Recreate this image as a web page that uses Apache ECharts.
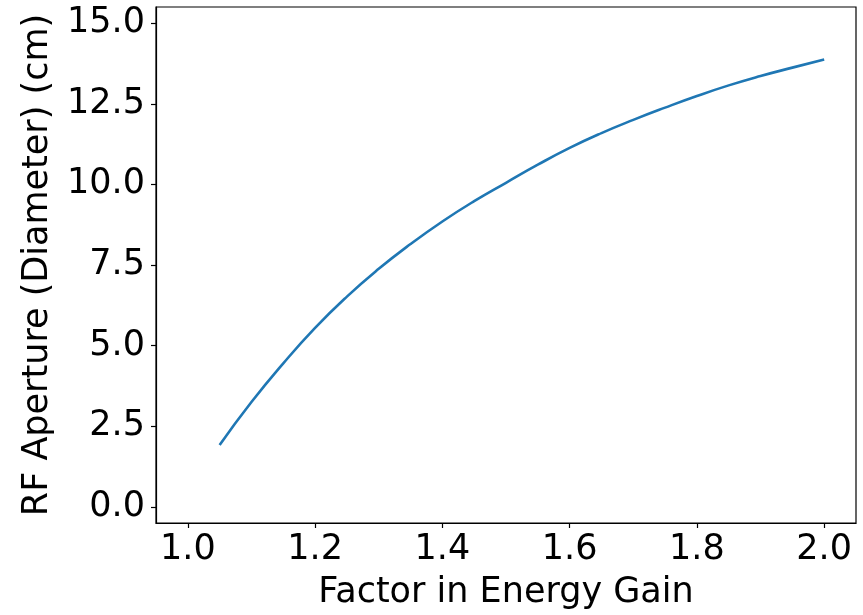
<!DOCTYPE html>
<html>
<head>
<meta charset="utf-8">
<script src="https://cdn.jsdelivr.net/npm/echarts@6/dist/echarts.min.js"></script>
<style>html,body{margin:0;padding:0;background:#fff;}#c{width:863px;height:615px;}</style>
</head>
<body>
<div id="c"></div>
<script>
const factor = [1.05, 1.10, 1.15, 1.20, 1.25, 1.30, 1.35, 1.40, 1.45, 1.50, 1.55, 1.60, 1.65, 1.70, 1.75, 1.80, 1.85, 1.90, 1.95, 2.00];
const aperture = [1.92, 3.25, 4.45, 5.55, 6.52, 7.38, 8.15, 8.85, 9.48, 10.05, 10.61, 11.13, 11.59, 12.00, 12.38, 12.74, 13.07, 13.36, 13.62, 13.87];
const xTicks = [1.0, 1.2, 1.4, 1.6, 1.8, 2.0];
const yTicks = [0.0, 2.5, 5.0, 7.5, 10.0, 12.5, 15.0];
const xTitle = 'Factor in Energy Gain';
const yTitle = 'RF Aperture (Diameter) (cm)';

const font = 'DejaVu Sans';
const fs = 35;
const chart = echarts.init(document.getElementById('c'), null, {renderer: 'canvas'});
chart.setOption({
  animation: false,
  backgroundColor: '#fff',
  grid: {left: 156, right: 7, top: 7, bottom: 92, show: true, borderColor: '#000', borderWidth: 1.2, containLabel: false},
  xAxis: {
    type: 'value', min: 0.95, max: 2.05,
    name: xTitle, nameLocation: 'middle', nameGap: 52,
    nameTextStyle: {fontFamily: font, fontSize: fs, color: '#000'},
    axisLine: {show: true, onZero: false, lineStyle: {color: '#000', width: 1.2}},
    axisTick: {show: true, length: 5, lineStyle: {color: '#000', width: 1.2}, customValues: xTicks},
    axisLabel: {fontFamily: font, fontSize: fs, color: '#000', margin: 9, customValues: xTicks, formatter: v => v.toFixed(1)},
    splitLine: {show: false}
  },
  yAxis: {
    type: 'value', min: -0.5, max: 15.5,
    name: yTitle, nameLocation: 'middle', nameGap: 101,
    nameTextStyle: {fontFamily: font, fontSize: fs, color: '#000'},
    axisLine: {show: true, onZero: false, lineStyle: {color: '#000', width: 1.2}},
    axisTick: {show: true, length: 5, lineStyle: {color: '#000', width: 1.2}, customValues: yTicks},
    axisLabel: {fontFamily: font, fontSize: fs, color: '#000', margin: 11, customValues: yTicks, formatter: v => v.toFixed(1)},
    splitLine: {show: false}
  },
  series: [{
    type: 'line',
    data: factor.map((x, i) => [x, aperture[i]]),
    smooth: true,
    showSymbol: false,
    lineStyle: {color: '#1f77b4', width: 2.6}
  }]
});
</script>
</body>
</html>
